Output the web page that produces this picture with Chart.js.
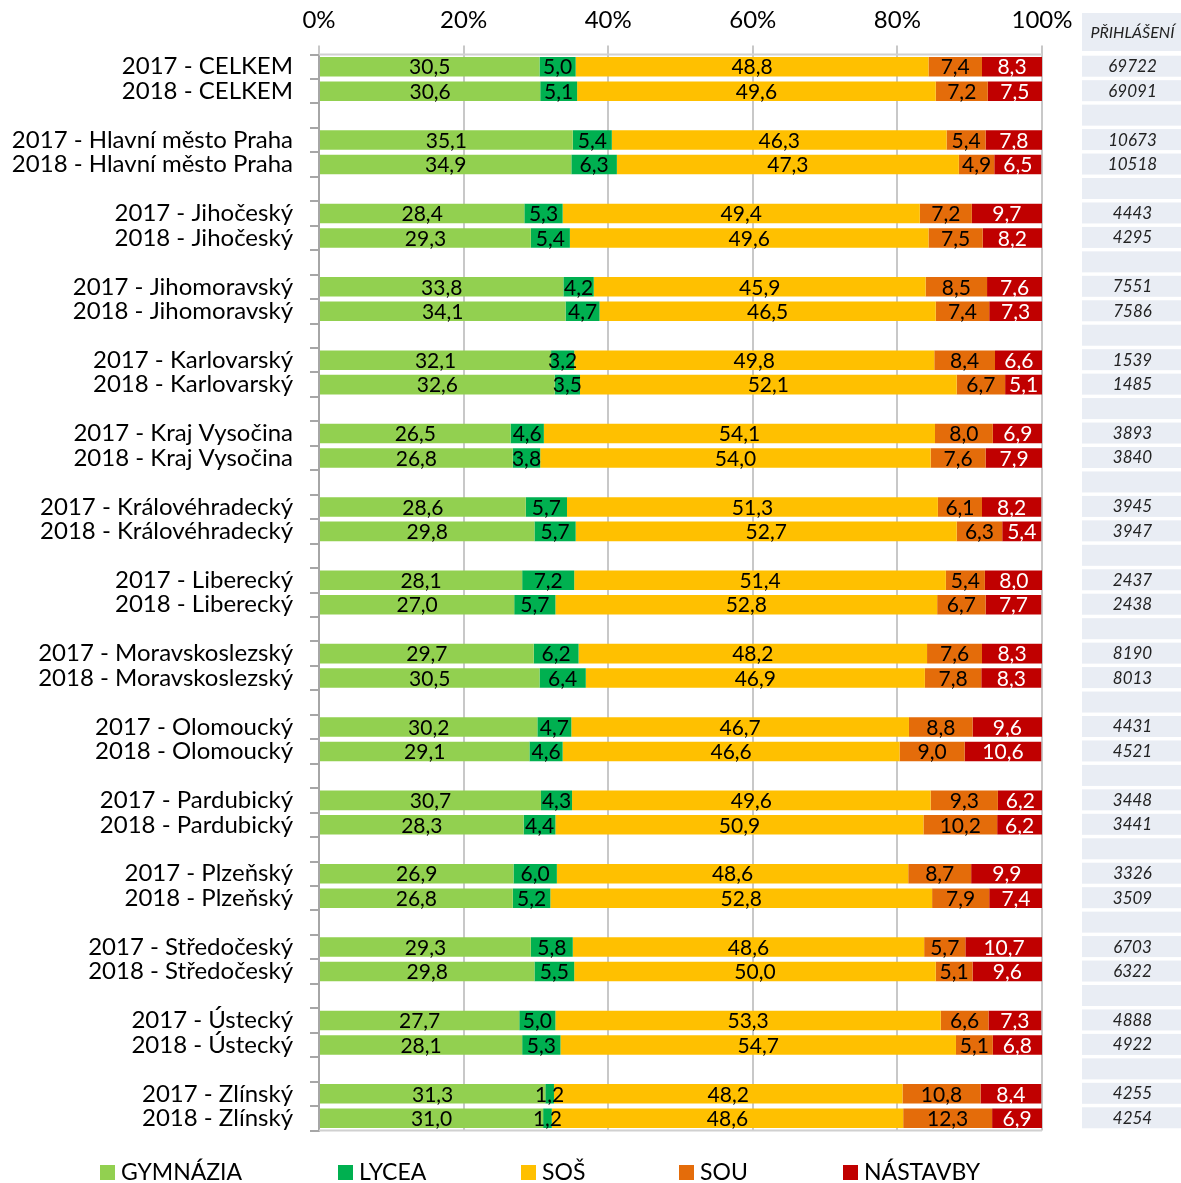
<!DOCTYPE html>
<html><head><meta charset="utf-8">
<script src="https://cdn.jsdelivr.net/npm/chart.js@4"></script>
<style>html,body{margin:0;padding:0;background:#fff}canvas{display:block}</style>
</head><body>
<canvas id="c" width="1181" height="1183"></canvas>
<script>
const regions = ['CELKEM','Hlavní město Praha','Jihočeský','Jihomoravský','Karlovarský','Kraj Vysočina','Královéhradecký','Liberecký','Moravskoslezský','Olomoucký','Pardubický','Plzeňský','Středočeský','Ústecký','Zlínský'];
const years = ['2017','2018'];
const seriesNames = ['GYMNÁZIA','LYCEA','SOŠ','SOU','NÁSTAVBY'];
// values per region: 2017, 2018
const gymnazia = [30.5,30.6, 35.1,34.9, 28.4,29.3, 33.8,34.1, 32.1,32.6, 26.5,26.8, 28.6,29.8, 28.1,27.0, 29.7,30.5, 30.2,29.1, 30.7,28.3, 26.9,26.8, 29.3,29.8, 27.7,28.1, 31.3,31.0];
const lycea = [5.0,5.1, 5.4,6.3, 5.3,5.4, 4.2,4.7, 3.2,3.5, 4.6,3.8, 5.7,5.7, 7.2,5.7, 6.2,6.4, 4.7,4.6, 4.3,4.4, 6.0,5.2, 5.8,5.5, 5.0,5.3, 1.2,1.2];
const sos = [48.8,49.6, 46.3,47.3, 49.4,49.6, 45.9,46.5, 49.8,52.1, 54.1,54.0, 51.3,52.7, 51.4,52.8, 48.2,46.9, 46.7,46.6, 49.6,50.9, 48.6,52.8, 48.6,50.0, 53.3,54.7, 48.2,48.6];
const sou = [7.4,7.2, 5.4,4.9, 7.2,7.5, 8.5,7.4, 8.4,6.7, 8.0,7.6, 6.1,6.3, 5.4,6.7, 7.6,7.8, 8.8,9.0, 9.3,10.2, 8.7,7.9, 5.7,5.1, 6.6,5.1, 10.8,12.3];
const nastavby = [8.3,7.5, 7.8,6.5, 9.7,8.2, 7.6,7.3, 6.6,5.1, 6.9,7.9, 8.2,5.4, 8.0,7.7, 8.3,8.3, 9.6,10.6, 6.2,6.2, 9.9,7.4, 10.7,9.6, 7.3,6.8, 8.4,6.9];
const prihlaseni = [69722,69091, 10673,10518, 4443,4295, 7551,7586, 1539,1485, 3893,3840, 3945,3947, 2437,2438, 8190,8013, 4431,4521, 3448,3441, 3326,3509, 6703,6322, 4888,4922, 4255,4254];
const xTicks = [0,20,40,60,80,100];

const colors = ['#92D050','#00B050','#FFC000','#E46C0A','#C00000'];
const labelColors = ['#000','#000','#000','#000','#fff'];
const FONT = 'Lato, "Open Sans", sans-serif';

// build rows with blank separator rows between regions
const rowLabels = [];
const rowIndex = []; // index into the 30-value arrays, or null for blank
regions.forEach((r, ri) => {
  years.forEach((y, yi) => { rowLabels.push(y + ' - ' + r); rowIndex.push(ri*2 + yi); });
  if (ri < regions.length - 1) { rowLabels.push(''); rowIndex.push(null); }
});
const expand = arr => rowIndex.map(i => i === null ? null : arr[i]);
const allSeries = [gymnazia, lycea, sos, sou, nastavby];
const fmt = v => v.toFixed(1).replace('.', ',');

const overlay = {
  id: 'overlay',
  beforeDatasetsDraw(chart) {
    const ctx = chart.ctx;
    const ca = chart.chartArea;
    ctx.save();
    ctx.strokeStyle = '#D0D0D0';
    ctx.lineWidth = 2;
    ctx.beginPath();
    ctx.moveTo(ca.left, ca.top);
    ctx.lineTo(ca.right, ca.top);
    ctx.moveTo(ca.left, ca.bottom);
    ctx.lineTo(ca.right, ca.bottom);
    ctx.stroke();
    ctx.restore();
  },
  afterDatasetsDraw(chart) {
    const ctx = chart.ctx;
    ctx.save();
    ctx.font = '21px ' + FONT;
    ctx.textAlign = 'center';
    ctx.textBaseline = 'middle';
    chart.data.datasets.forEach((ds, di) => {
      const meta = chart.getDatasetMeta(di);
      meta.data.forEach((bar, i) => {
        const v = ds.data[i];
        if (v == null) return;
        ctx.fillStyle = labelColors[di];
        ctx.fillText(fmt(v), (bar.x + bar.base) / 2, bar.y + 1);
      });
    });
    ctx.restore();
  },
  afterDraw(chart) {
    const ctx = chart.ctx;
    const yS = chart.scales.y;
    ctx.save();
    // table on the right
    const tx = 1082, tw = 99;
    ctx.fillStyle = '#E9EDF4';
    ctx.fillRect(tx, 13, tw, 38);
    ctx.fillStyle = '#222';
    ctx.font = 'italic 16px ' + FONT;
    ctx.textAlign = 'center';
    ctx.textBaseline = 'middle';
    ctx.fillText('PŘIHLÁŠENÍ', tx + tw/2 + 1, 33);
    ctx.font = 'italic 17px ' + FONT;
    rowIndex.forEach((idx, i) => {
      const yc = yS.getPixelForValue(i);
      ctx.fillStyle = '#E9EDF4';
      ctx.fillRect(tx, yc - 11, tw, 21);
      if (idx !== null) {
        ctx.fillStyle = '#222';
        ctx.fillText(String(prihlaseni[idx]), tx + tw/2 + 1, yc);
      }
    });
    // legend
    const lx = [100, 338, 521, 679, 843];
    ctx.font = '23px ' + FONT;
    ctx.textAlign = 'left';
    seriesNames.forEach((n, i) => {
      ctx.fillStyle = colors[i];
      ctx.fillRect(lx[i], 1165, 15, 15);
      ctx.fillStyle = '#000';
      ctx.fillText(n, lx[i] + 21, 1173);
    });
    ctx.restore();
  }
};

new Chart(document.getElementById('c'), {
  type: 'bar',
  data: {
    labels: rowLabels,
    datasets: seriesNames.map((n, i) => ({
      label: n,
      data: expand(allSeries[i]),
      backgroundColor: colors[i],
      borderWidth: 0,
      barPercentage: 0.8,
      categoryPercentage: 1.0
    }))
  },
  options: {
    indexAxis: 'y',
    responsive: false,
    animation: false,
    layout: { padding: { left: 0, right: 139, top: 0, bottom: 52.5 } },
    plugins: { legend: { display: false }, tooltip: { enabled: false } },
    scales: {
      x: {
        position: 'top',
        stacked: true,
        min: 0, max: 100,
        afterBuildTicks: s => { s.ticks = xTicks.map(v => ({ value: v })); },
        afterFit: s => { s.height = 54.5; },
        ticks: { callback: v => v + '%', font: { size: 24, family: FONT }, color: '#000', padding: 11, maxRotation: 0, autoSkip: false },
        grid: { color: '#C8C8C8', lineWidth: 2, tickLength: 9 },
        border: { display: false }
      },
      y: {
        stacked: true,
        afterFit: s => { s.width = 319; },
        ticks: { font: { size: 24, family: FONT }, color: '#000', padding: 17, autoSkip: false },
        grid: { drawOnChartArea: false, color: '#A6A6A6', lineWidth: 2, tickLength: 9, offset: true },
        border: { color: '#A6A6A6', width: 2 }
      }
    }
  },
  plugins: [overlay]
});
</script>
</body></html>
